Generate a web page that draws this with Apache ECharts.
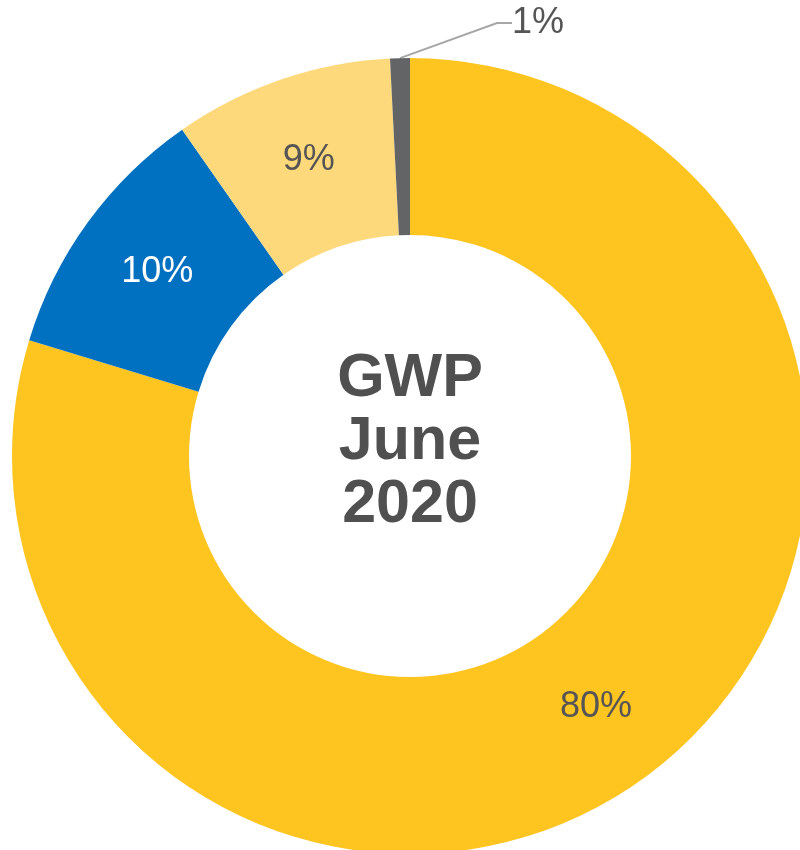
<!DOCTYPE html>
<html>
<head>
<meta charset="utf-8">
<script src="https://cdn.jsdelivr.net/npm/echarts@6/dist/echarts.min.js"></script>
<style>
html,body{margin:0;padding:0;background:#fff;}
#chart{width:800px;height:850px;}
</style>
</head>
<body>
<div id="chart"></div>
<script>
const categories = ['Segment A', 'Segment B', 'Segment C', 'Segment D'];
const values = [79.7, 10.6, 8.9, 0.8];
const valueLabels = ['80%', '10%', '9%', '1%'];
const sliceColors = ['#FEC420', '#0070C0', '#FED97B', '#636466'];
const labelColors = ['#555555', '#FFFFFF', '#555555', '#555555'];
const centerText = ['GWP', 'June', '2020'];

const chart = echarts.init(document.getElementById('chart'));
const data = categories.map((name, i) => {
  const item = {
    name: name,
    value: values[i],
    itemStyle: { color: sliceColors[i] },
    label: { color: labelColors[i] }
  };
  if (i === 3) {
    item.label = { position: 'outside', color: labelColors[i] };
    item.labelLine = { show: true, length: 40, length2: 15, lineStyle: { color: '#A6A6A6', width: 2 } };
  }
  return item;
});

chart.setOption({
  animation: false,
  backgroundColor: '#ffffff',
  graphic: [{
    type: 'text',
    x: 410,
    y: 442,
    style: {
      text: centerText.join('\n'),
      fontFamily: 'Liberation Sans, Arial, sans-serif',
      fontSize: 61,
      fontWeight: 'bold',
      lineHeight: 63,
      fill: '#505050',
      align: 'center',
      verticalAlign: 'middle'
    }
  }],
  series: [{
    type: 'pie',
    center: [410, 456],
    radius: [221, 398],
    startAngle: 90,
    clockwise: true,
    avoidLabelOverlap: false,
    data: data,
    label: {
      show: true,
      position: 'inside',
      formatter: (p) => valueLabels[p.dataIndex],
      fontFamily: 'Liberation Sans, Arial, sans-serif',
      fontSize: 36,
      fontWeight: 'normal'
    },
    labelLine: { show: false },
    labelLayout: function (params) {
      if (params.dataIndex === 3) {
        return { x: 512, y: 23, align: 'left', verticalAlign: 'middle' };
      }
      return {};
    },
    emphasis: { disabled: true }
  }]
});
</script>
</body>
</html>
